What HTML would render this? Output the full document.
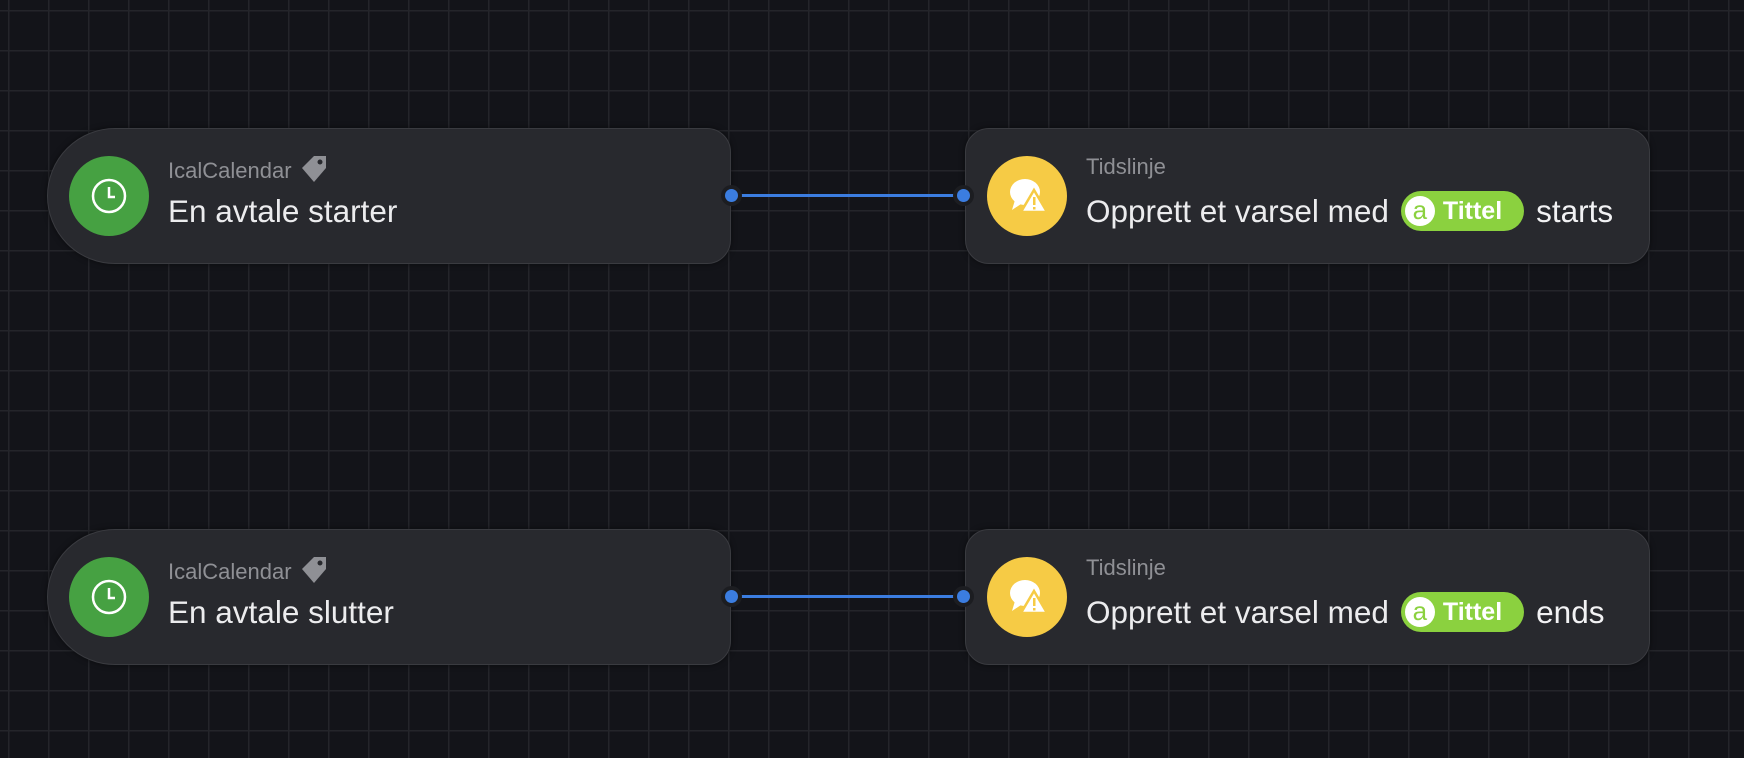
<!DOCTYPE html>
<html><head><meta charset="utf-8"><style>
*{margin:0;padding:0;box-sizing:border-box}
body{width:1744px;height:758px;overflow:hidden;background:#131419;font-family:"Liberation Sans",sans-serif;position:relative;
background-image:linear-gradient(#24252a 0 1.5px,transparent 1.5px),linear-gradient(90deg,#24252a 0 1.5px,transparent 1.5px);
background-size:40px 40px;background-position:8px 10px;}
.node{position:absolute;height:136px;background:#28292e;border:1px solid #3a3b40;border-radius:24px;box-shadow:0 0 6px rgba(0,0,0,.5)}
.left{border-radius:68px 24px 24px 68px}
.ic{position:absolute;left:21px;top:27px;width:80px;height:80px;border-radius:50%}
.sub{position:absolute;left:120px;top:25px;font-size:22px;color:#8f9095}
.main{position:absolute;left:120px;top:64px;font-size:31.5px;color:#ececee;white-space:nowrap}
.pill{display:inline-block;vertical-align:middle;background:#8bd13f;border-radius:20px;height:40px;padding:0 22px 0 4px;color:#fff;font-weight:bold;font-size:25px;line-height:40px;margin:-6px 2px 0 12px}
.pill i{display:inline-block;width:30px;height:30px;border-radius:50%;background:#fff;color:#8bd13f;font-style:normal;font-weight:normal;text-align:center;line-height:28px;vertical-align:top;margin:5px 8px 0 0;font-size:26px}
.end{margin-left:10px;color:#f2f2f4}
.line{position:absolute;height:3px;background:#3b7de0}
.dot{position:absolute;width:13px;height:13px;border-radius:50%;background:#3b7de0;box-shadow:0 0 0 4px #1c1d21}
</style></head><body>

<div class="node left" style="left:47px;top:128px;width:684px">
 <div class="ic" style="background:#46a142"><svg width="80" height="80"><circle cx="40" cy="40" r="16" fill="none" stroke="#fff" stroke-width="2.5"/><path d="M40 31v10h6" fill="none" stroke="#fff" stroke-width="2.5"/></svg></div>
 <div class="sub">IcalCalendar <svg width="32" height="32" style="vertical-align:-8px"><path d="M4 14l12-12h12v12l-12 14z" fill="#8f9095"/><circle cx="22" cy="8" r="2.5" fill="#28292e"/></svg></div>
 <div class="main">En avtale starter</div>
</div>
<div class="node" style="left:965px;top:128px;width:685px">
 <div class="ic" style="background:#f6cb45"><svg width="80" height="80"><ellipse cx="38" cy="36" rx="15" ry="13" fill="#fff"/><path d="M28 44l-3 10 9-6z" fill="#fff"/><path d="M47 34l13 22h-26z" fill="#fff" stroke="#f6cb45" stroke-width="2.5"/><rect x="46" y="41" width="2.5" height="8" fill="#f6cb45"/><rect x="46" y="51" width="2.5" height="2.5" fill="#f6cb45"/></svg></div>
 <div class="sub">Tidslinje</div>
 <div class="main">Opprett et varsel med<span class="pill"><i>a</i>Tittel</span><span class="end">starts</span></div>
</div>
<div class="line" style="left:738px;top:194px;width:220px"></div>
<div class="dot" style="left:725px;top:189px"></div>
<div class="dot" style="left:957px;top:189px"></div>

<div class="node left" style="left:47px;top:529px;width:684px">
 <div class="ic" style="background:#46a142"><svg width="80" height="80"><circle cx="40" cy="40" r="16" fill="none" stroke="#fff" stroke-width="2.5"/><path d="M40 31v10h6" fill="none" stroke="#fff" stroke-width="2.5"/></svg></div>
 <div class="sub">IcalCalendar <svg width="32" height="32" style="vertical-align:-8px"><path d="M4 14l12-12h12v12l-12 14z" fill="#8f9095"/><circle cx="22" cy="8" r="2.5" fill="#28292e"/></svg></div>
 <div class="main">En avtale slutter</div>
</div>
<div class="node" style="left:965px;top:529px;width:685px">
 <div class="ic" style="background:#f6cb45"><svg width="80" height="80"><ellipse cx="38" cy="36" rx="15" ry="13" fill="#fff"/><path d="M28 44l-3 10 9-6z" fill="#fff"/><path d="M47 34l13 22h-26z" fill="#fff" stroke="#f6cb45" stroke-width="2.5"/><rect x="46" y="41" width="2.5" height="8" fill="#f6cb45"/><rect x="46" y="51" width="2.5" height="2.5" fill="#f6cb45"/></svg></div>
 <div class="sub">Tidslinje</div>
 <div class="main">Opprett et varsel med<span class="pill"><i>a</i>Tittel</span><span class="end">ends</span></div>
</div>
<div class="line" style="left:738px;top:595px;width:220px"></div>
<div class="dot" style="left:725px;top:590px"></div>
<div class="dot" style="left:957px;top:590px"></div>
</body></html>
